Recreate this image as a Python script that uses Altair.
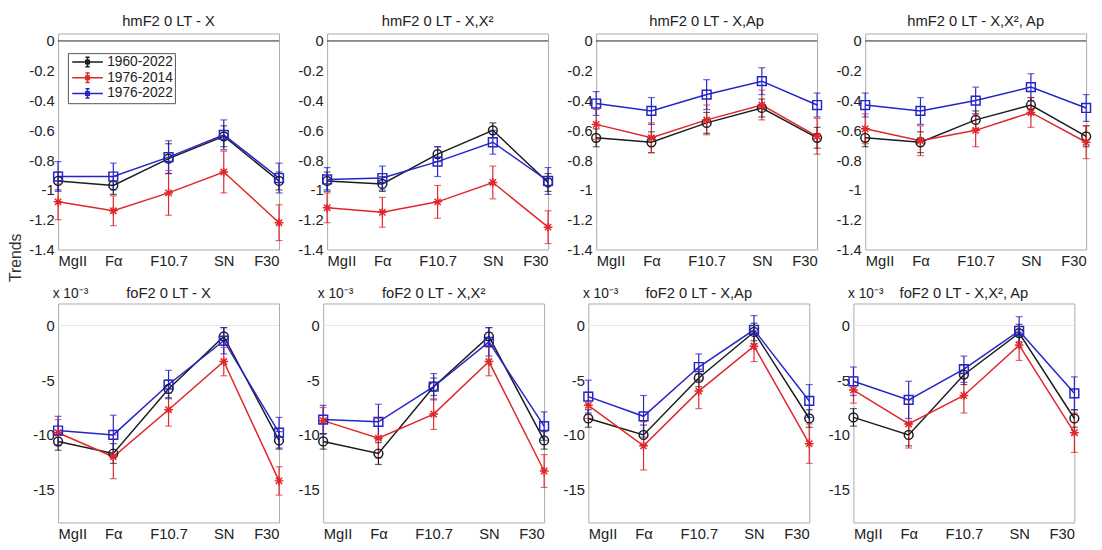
import altair as alt
import pandas as pd

FONT = "Liberation Sans"

categories = ["MgII", "Fα", "F10.7", "SN", "F30"]
series_names = ["1960-2022", "1976-2014", "1976-2022"]
series_ids = [0, 1, 2]
series_colors = ["#1c1c1c", "#e0262b", "#2424c8"]
asterisk = "M-1,0L1,0M0,-1L0,1M-0.72,-0.72L0.72,0.72M-0.72,0.72L0.72,-0.72"
series_shapes = ["circle", asterisk, "square"]
legend_symbol = ("M-2.6,0L2.6,0M0,-0.8L0,0.8M-0.35,-0.8L0.35,-0.8M-0.35,0.8L0.35,0.8"
                 "M-0.3,-0.3L0.3,-0.3L0.3,0.3L-0.3,0.3Z")

top_titles = ["hmF2 0 LT - X", "hmF2 0 LT - X,X²", "hmF2 0 LT - X,Ap", "hmF2 0 LT - X,X², Ap"]
bottom_titles = ["foF2 0 LT - X", "foF2 0 LT - X,X²", "foF2 0 LT - X,Ap", "foF2 0 LT - X,X², Ap"]
top_ticks = [0, -0.2, -0.4, -0.6, -0.8, -1, -1.2, -1.4]
bottom_ticks = [0, -5, -10, -15]

# ---- hmF2 (top row): values per series [1960-2022, 1976-2014, 1976-2022]
hm_x_val = [[-0.94, -0.97, -0.79, -0.64, -0.94],
            [-1.08, -1.14, -1.02, -0.88, -1.22],
            [-0.91, -0.91, -0.78, -0.63, -0.92]]
hm_x_err = [[0.06, 0.06, 0.10, 0.07, 0.06],
            [0.12, 0.10, 0.15, 0.14, 0.12],
            [0.10, 0.09, 0.11, 0.10, 0.10]]

hm_xx2_val = [[-0.94, -0.96, -0.76, -0.60, -0.95],
              [-1.12, -1.15, -1.08, -0.95, -1.25],
              [-0.93, -0.92, -0.81, -0.68, -0.94]]
hm_xx2_err = [[0.06, 0.05, 0.05, 0.05, 0.06],
              [0.10, 0.10, 0.11, 0.11, 0.11],
              [0.08, 0.08, 0.10, 0.08, 0.09]]

hm_xap_val = [[-0.65, -0.68, -0.55, -0.45, -0.65],
              [-0.56, -0.65, -0.53, -0.43, -0.64],
              [-0.42, -0.47, -0.36, -0.27, -0.43]]
hm_xap_err = [[0.06, 0.07, 0.07, 0.06, 0.07],
              [0.10, 0.10, 0.10, 0.10, 0.12],
              [0.08, 0.09, 0.10, 0.09, 0.08]]

hm_xx2ap_val = [[-0.65, -0.68, -0.53, -0.43, -0.64],
                [-0.59, -0.67, -0.60, -0.48, -0.68],
                [-0.43, -0.47, -0.40, -0.31, -0.45]]
hm_xx2ap_err = [[0.06, 0.07, 0.06, 0.05, 0.07],
                [0.10, 0.10, 0.11, 0.10, 0.11],
                [0.08, 0.09, 0.09, 0.09, 0.09]]

# ---- foF2 (bottom row), in units of 1e-3
fo_x_val = [[-10.6, -11.7, -5.8, -1.0, -10.5],
            [-9.8, -12.0, -7.7, -3.3, -14.2],
            [-9.6, -10.0, -5.4, -1.4, -9.8]]
fo_x_err = [[0.8, 0.9, 0.8, 0.8, 0.8],
            [1.2, 2.0, 1.5, 1.3, 1.3],
            [1.3, 1.8, 1.3, 1.2, 1.4]]

fo_xx2_val = [[-10.6, -11.7, -5.6, -1.0, -10.5],
              [-8.7, -10.3, -8.1, -3.3, -13.3],
              [-8.6, -8.8, -5.6, -1.5, -9.2]]
fo_xx2_err = [[0.7, 1.0, 0.8, 0.8, 0.8],
              [1.2, 1.8, 1.4, 1.3, 1.5],
              [1.3, 1.6, 1.2, 1.3, 1.3]]

fo_xap_val = [[-8.5, -10.0, -4.8, -0.6, -8.5],
              [-7.3, -11.0, -6.0, -1.9, -10.8],
              [-6.5, -8.3, -3.8, -0.4, -6.9]]
fo_xap_err = [[0.8, 0.9, 0.8, 0.8, 0.8],
              [1.2, 2.2, 1.6, 1.4, 1.8],
              [1.5, 1.9, 1.2, 1.3, 1.5]]

fo_xx2ap_val = [[-8.4, -10.0, -4.5, -0.7, -8.5],
                [-5.9, -9.0, -6.4, -1.8, -9.8],
                [-5.1, -6.8, -4.0, -0.5, -6.2]]
fo_xx2ap_err = [[0.8, 1.0, 0.9, 0.8, 0.8],
                [1.2, 2.2, 1.6, 1.4, 1.8],
                [1.3, 1.7, 1.2, 1.3, 1.5]]


def make_df(vals, errs):
    rows = []
    for s, name in enumerate(series_names):
        for i, c in enumerate(categories):
            v = vals[s][i]
            e = errs[s][i]
            rows.append({"cat": c, "series": name, "sid": series_ids[s], "value": v,
                         "lo": v - e, "hi": v + e, "order": i})
    return pd.DataFrame(rows)


def id_scale():
    return alt.Scale(domain=series_ids, range=series_colors)


def panel(title, vals, errs, top, show_legend):
    df = make_df(vals, errs)
    common = dict(labelExpr="'' + datum.value", ticks=False, domain=False,
                  grid=False, labelPadding=4, labelFont=FONT, labelFontSize=15,
                  labelColor="#222")
    if top:
        ydomain, yticks, zero_color, h = [-1.4, 0.05], top_ticks, "#222222", 220
        yaxis = alt.Axis(title=None, values=yticks, **common)
        tparams = alt.TitleParams(title, fontSize=15, fontWeight="normal", offset=5,
                                  anchor="middle", frame="group", font=FONT, color="#222")
    else:
        ydomain, yticks, zero_color, h = [-18, 2], bottom_ticks, "#e6e6e6", 223
        yaxis = alt.Axis(title="x 10⁻³", values=yticks, titleAngle=0, titleAlign="left",
                         titleBaseline="bottom", titleX=-6, titleY=-3,
                         titleFontSize=14, titleFontWeight="normal", titleFont=FONT,
                         titleColor="#222", **common)
        tparams = alt.TitleParams(title, fontSize=15, fontWeight="normal", offset=-14,
                                  anchor="middle", frame="group", font=FONT, color="#222")

    yscale = alt.Scale(domain=ydomain, nice=False, zero=False)
    x = alt.X("cat:N", sort=categories, scale=alt.Scale(type="point", padding=0),
              axis=alt.Axis(title=None, labelFlush=True, ticks=False, domain=False,
                            labelPadding=4, labelAngle=0, labelFont=FONT,
                            labelFontSize=15, labelColor="#222"))

    if show_legend:
        line_color = alt.Color(
            "series:N", scale=alt.Scale(domain=series_names, range=series_colors),
            legend=alt.Legend(title=None, orient="none", legendX=10, legendY=20,
                              fillColor="white", strokeColor="#555555", padding=2,
                              symbolType=legend_symbol, symbolSize=144,
                              symbolStrokeWidth=1.5, symbolOffset=11, labelOffset=13,
                              labelFontSize=14, labelFont=FONT, labelColor="#222",
                              rowPadding=0))
    else:
        line_color = alt.Color("sid:N", scale=id_scale(), legend=None)

    base = alt.Chart(df)
    zero = alt.Chart(pd.DataFrame({"z": [0]})).mark_rule(
        color=zero_color, strokeWidth=1).encode(y=alt.Y("z:Q", scale=yscale, axis=yaxis))
    bars = base.mark_rule(strokeWidth=1.2).encode(
        x=x, y=alt.Y("lo:Q", scale=yscale, axis=yaxis), y2="hi:Q",
        stroke=alt.Stroke("sid:N", scale=id_scale(), legend=None))
    cap_lo = base.mark_tick(orient="horizontal", size=7, thickness=1.2).encode(
        x=x, y=alt.Y("lo:Q", scale=yscale, axis=yaxis),
        fill=alt.Fill("sid:N", scale=id_scale(), legend=None))
    cap_hi = base.mark_tick(orient="horizontal", size=7, thickness=1.2).encode(
        x=x, y=alt.Y("hi:Q", scale=yscale, axis=yaxis),
        fill=alt.Fill("sid:N", scale=id_scale(), legend=None))
    line = base.mark_line(strokeWidth=1.5).encode(
        x=x, y=alt.Y("value:Q", scale=yscale, axis=yaxis),
        color=line_color, order=alt.Order("order:Q"))
    pts = base.mark_point(filled=False, size=80, strokeWidth=1.5, opacity=1).encode(
        x=x, y=alt.Y("value:Q", scale=yscale, axis=yaxis),
        stroke=alt.Stroke("sid:N", scale=id_scale(), legend=None),
        shape=alt.Shape("sid:N", scale=alt.Scale(domain=series_ids, range=series_shapes),
                        legend=None))
    return alt.layer(zero, bars, cap_lo, cap_hi, line, pts).properties(
        width=225, height=h, title=tparams)


top_panels = [
    panel(top_titles[0], hm_x_val, hm_x_err, True, True),
    panel(top_titles[1], hm_xx2_val, hm_xx2_err, True, False),
    panel(top_titles[2], hm_xap_val, hm_xap_err, True, False),
    panel(top_titles[3], hm_xx2ap_val, hm_xx2ap_err, True, False),
]
bottom_panels = [
    panel(bottom_titles[0], fo_x_val, fo_x_err, False, False),
    panel(bottom_titles[1], fo_xx2_val, fo_xx2_err, False, False),
    panel(bottom_titles[2], fo_xap_val, fo_xap_err, False, False),
    panel(bottom_titles[3], fo_xx2ap_val, fo_xx2ap_err, False, False),
]

ind = dict(stroke="independent", color="independent", shape="independent", fill="independent")
top_row = alt.hconcat(*top_panels, spacing=10).resolve_scale(**ind).resolve_legend(**ind)
bottom_row = alt.hconcat(*bottom_panels, spacing=10).resolve_scale(**ind).resolve_legend(**ind)

chart = alt.vconcat(top_row, bottom_row, spacing=16).resolve_scale(**ind).resolve_legend(**ind).properties(
    title=alt.TitleParams("Trends", orient="left", anchor="middle", fontSize=16,
                          fontWeight="normal", offset=4, dx=20, font=FONT, color="#333"),
    padding={"left": 0, "top": 0, "right": 0, "bottom": 0},
    background="white",
).configure_view(
    stroke="#aaaaaa", strokeWidth=1
)

chart.save("out.html", embed_options={"renderer": "svg", "actions": False})
